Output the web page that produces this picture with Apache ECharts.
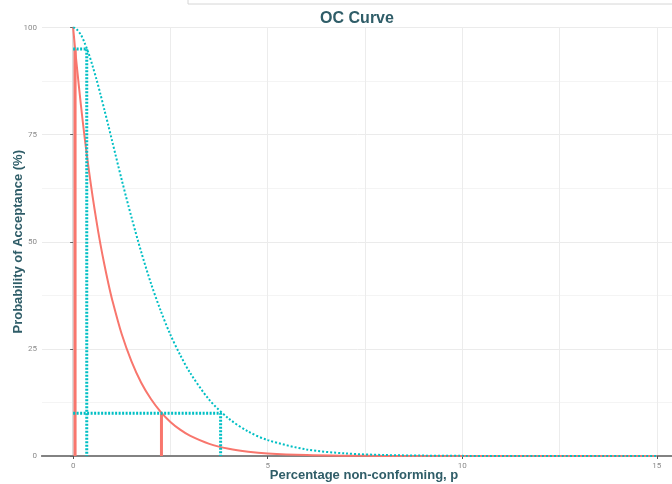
<!DOCTYPE html>
<html><head><meta charset="utf-8">
<script src="https://cdn.jsdelivr.net/npm/echarts@6/dist/echarts.min.js"></script>
<style>html,body{margin:0;padding:0;background:#fff}#c{width:672px;height:484px}</style>
</head><body><div id="c"></div>
<script>
// Percentage non-conforming (p, %) and probability of acceptance (%)
const pRed   = [0, 0.05, 0.1, 0.2, 0.3, 0.4, 0.5, 0.6, 0.7, 0.8, 0.9, 1.0, 1.25, 1.5, 1.75, 2.0, 2.25, 2.5, 2.75, 3.0, 3.5, 4.0, 4.5, 5.0, 6, 7, 8, 9, 10, 12, 15];
const accRed = [100, 95.1, 90.5, 81.9, 74.0, 67.0, 60.6, 54.8, 49.5, 44.8, 40.5, 36.6, 28.4, 22.1, 17.1, 13.3, 10.3, 7.95, 6.15, 4.76, 2.84, 1.69, 1.0, 0.59, 0.21, 0.07, 0.02, 0.01, 0, 0, 0];
const pCyan   = [0, 0.05, 0.1, 0.2, 0.3, 0.4, 0.5, 0.6, 0.7, 0.8, 0.9, 1.0, 1.25, 1.5, 1.75, 2.0, 2.25, 2.5, 2.75, 3.0, 3.5, 4.0, 4.5, 5.0, 6, 7, 8, 9, 10, 12, 15];
const accCyan = [100, 99.9, 99.5, 98.3, 96.3, 93.9, 91.0, 87.9, 84.5, 80.9, 77.3, 73.6, 64.4, 55.7, 47.6, 40.3, 33.9, 28.3, 23.6, 19.5, 13.1, 8.72, 5.71, 3.71, 1.52, 0.60, 0.23, 0.09, 0.03, 0, 0];
// Reference points (AQL at 95%, LTPD at 10%)
const refRed  = {aql: 0.05, ltpd: 2.27};
const refCyan = {aql: 0.35, ltpd: 3.79};
const xTickLabels = [0, 5, 10, 15];
const xGridValues = [0, 2.5, 5, 7.5, 10, 12.5, 15];
const yTickLabels = [0, 25, 50, 75, 100];

const zip = (a, b) => a.map((v, i) => [v, b[i]]);
const RED = '#F8766D', CYAN = '#00BFC4', TXT = '#2f5d68';
const X_MIN = -0.8, X_MAX = 15.75;

const chart = echarts.init(document.getElementById('c'), null, {renderer: 'canvas'});
chart.setOption({
  animation: false,
  backgroundColor: '#fff',
  title: {
    text: 'OC Curve', left: 352, top: 6, textAlign: 'center',
    textStyle: {fontFamily: 'Liberation Sans, Arial', fontSize: 16, fontWeight: 'bold', color: TXT}
  },
  graphic: [{
    type: 'rect', shape: {x: 188, y: -6, width: 500, height: 10},
    style: {fill: '#fff', stroke: '#d6d6d6', lineWidth: 1}, silent: true
  }],
  grid: {left: 42, right: -14, top: 27.5, bottom: 28, containLabel: false, outerBoundsMode: 'none'},
  xAxis: [{
    type: 'value', min: X_MIN, max: X_MAX,
    name: 'Percentage non-conforming, p', nameLocation: 'middle', nameGap: 13, nameMoveOverlap: false,
    nameTextStyle: {fontFamily: 'Liberation Sans, Arial', fontSize: 13, fontWeight: 'bold', color: TXT, verticalAlign: 'top'},
    axisLine: {show: true, onZero: false, lineStyle: {color: '#6b6b6b', width: 2}},
    axisTick: {show: false, customValues: xGridValues},
    axisLabel: {customValues: xTickLabels, fontSize: 8, color: '#8a8a8a', margin: 6, fontFamily: 'Roboto'},
    splitLine: {show: true, lineStyle: {color: '#ececec', width: 1}}
  }, {
    type: 'value', position: 'top', min: X_MIN, max: X_MAX,
    axisLine: {show: true, lineStyle: {color: '#8a8a8a', width: 1.5}},
    axisTick: {show: false}, axisLabel: {show: false}, splitLine: {show: false}
  }, {
    type: 'value', position: 'bottom', min: X_MIN, max: X_MAX, offset: 0,
    axisLine: {show: false},
    axisTick: {show: true, customValues: xTickLabels, length: 3, lineStyle: {color: '#555', width: 1}},
    axisLabel: {show: false}, splitLine: {show: false}
  }],
  yAxis: {
    type: 'value', min: 0, max: 100, interval: 25,
    name: 'Probability of Acceptance (%)', nameLocation: 'middle', nameGap: 17, nameRotate: 90, nameMoveOverlap: false,
    nameTextStyle: {fontFamily: 'Liberation Sans, Arial', fontSize: 13, fontWeight: 'bold', color: TXT},
    axisLine: {show: true, lineStyle: {color: '#dcdcdc', width: 2}},
    axisTick: {show: true, length: 3, lineStyle: {color: '#666'}},
    axisLabel: {fontSize: 8, color: '#8a8a8a', margin: 5, fontFamily: 'Roboto'},
    splitLine: {show: true, lineStyle: {color: '#ebebeb', width: 1}},
    minorTick: {show: false, splitNumber: 2},
    minorSplitLine: {show: true, lineStyle: {color: '#f4f4f4', width: 1}}
  },
  series: [
    {
      type: 'line', name: 'ref red', showSymbol: false, symbol: 'none', z: 3,
      data: [[refRed.aql, 95], [refRed.aql, 0]],
      lineStyle: {color: RED, width: 3}
    },
    {
      type: 'line', name: 'ref red 2', showSymbol: false, symbol: 'none', z: 3,
      data: [[refRed.ltpd, 10], [refRed.ltpd, 0]],
      lineStyle: {color: RED, width: 3}
    },
    {
      type: 'line', name: 'red', showSymbol: false, symbol: 'none', smooth: 0.3, z: 4,
      data: zip(pRed, accRed),
      lineStyle: {color: RED, width: 2}
    },
    {
      type: 'line', name: 'cyan', showSymbol: false, symbol: 'none', smooth: 0.3, z: 4,
      data: zip(pCyan, accCyan),
      lineStyle: {color: CYAN, width: 2, type: [2, 2]}
    },
    {
      type: 'line', name: 'ref cyan', showSymbol: false, symbol: 'none', z: 5,
      data: [[0, 95], [refCyan.aql, 95], [refCyan.aql, 0]],
      lineStyle: {color: CYAN, width: 3, type: [2, 1.5]}
    },
    {
      type: 'line', name: 'ref cyan 2', showSymbol: false, symbol: 'none', z: 5,
      data: [[0, 10], [refCyan.ltpd, 10], [refCyan.ltpd, 0]],
      lineStyle: {color: CYAN, width: 3, type: [2, 1.5]}
    }
  ]
});
</script>
</body></html>
